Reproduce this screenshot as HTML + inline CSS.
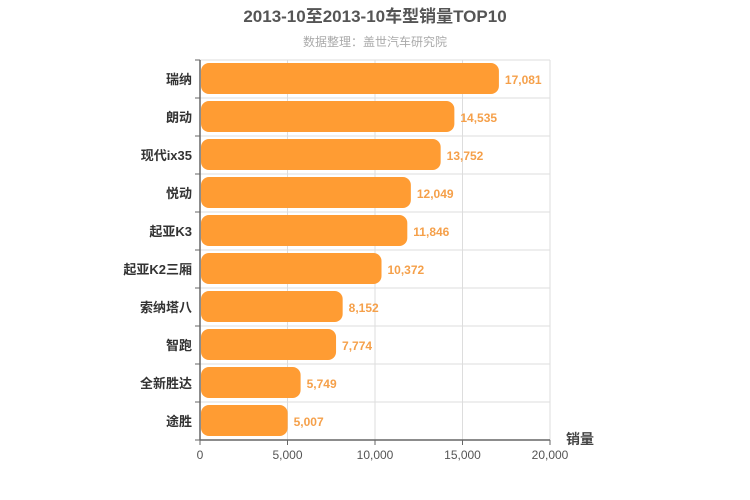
<!DOCTYPE html>
<html><head><meta charset="utf-8"><style>
body{margin:0;background:#fff;}
svg{display:block;font-family:"Liberation Sans","Noto Sans CJK SC",sans-serif;}
</style></head><body>
<svg id="chart" width="750" height="500">
<text x="375" y="22" text-anchor="middle" font-size="17" font-weight="bold" fill="#555">2013-10至2013-10车型销量TOP10</text>
<text x="375" y="46" text-anchor="middle" font-size="12" fill="#aaa">数据整理：盖世汽车研究院</text>
<g id="grid"></g><g id="bars"></g><g id="axes"></g>
<text x="580" y="444" text-anchor="middle" font-size="14" font-weight="bold" fill="#444">销量</text>
</svg>
<script>
const categories=["瑞纳","朗动","现代ix35","悦动","起亚K3","起亚K2三厢","索纳塔八","智跑","全新胜达","途胜"];
const values=[17081,14535,13752,12049,11846,10372,8152,7774,5749,5007];
const ticks=[0,5000,10000,15000,20000];
const ns="http://www.w3.org/2000/svg";
const L=200,R=550,T=60,B=440,max=20000;
const rowH=(B-T)/categories.length;
const xs=v=>L+(v/max)*(R-L);
function mk(tag,attrs,parent,text){const e=document.createElementNS(ns,tag);for(const k in attrs)e.setAttribute(k,attrs[k]);if(text!==undefined)e.textContent=text;document.getElementById(parent).appendChild(e);return e;}
ticks.forEach(t=>{
 const g=mk('line',{x1:xs(t),x2:xs(t),y1:T,y2:B,stroke:'#ddd'},'grid');
 
 
 const tl=mk('line',{x1:xs(t),x2:xs(t),y1:B,y2:B+5,stroke:'#666'},'axes');
 
 
 const lb=mk('text',{x:xs(t),y:B+19,'text-anchor':'middle','font-size':12,fill:'#555'},'axes',t.toLocaleString('en-US'));
 
 
});
for(let i=0;i<=categories.length;i++){
 const y=T+i*rowH;
 const g=mk('line',{x1:L,x2:R,y1:y,y2:y,stroke:'#ddd'},'grid');
 
 
 const tk=mk('line',{x1:L-5,x2:L,y1:y,y2:y,stroke:'#666'},'axes');
 
 
}
categories.forEach((c,i)=>{
 const y=T+i*rowH;
 const r=mk('rect',{x:L+1,y:y+3,width:Math.max(0,xs(values[i])-L-1),height:rowH-7,rx:8,ry:8,fill:'#ff9c33'},'bars');
 
 
 const v=mk('text',{x:xs(values[i])+6,y:y+rowH/2+5,'font-size':12,'font-weight':'bold',fill:'#f5a04a'},'bars',values[i].toLocaleString('en-US'));
 
 
 const lb=mk('text',{x:L-8,y:y+rowH/2+5,'text-anchor':'end','font-size':13,'font-weight':'bold',fill:'#333'},'axes',c);
 
 
});
const ax=mk('line',{x1:L,x2:L,y1:T,y2:B,stroke:'#666','stroke-width':1.5},'axes');


const bx=mk('line',{x1:L,x2:R,y1:B,y2:B,stroke:'#666','stroke-width':1.5},'axes');


</script>
</body></html>
